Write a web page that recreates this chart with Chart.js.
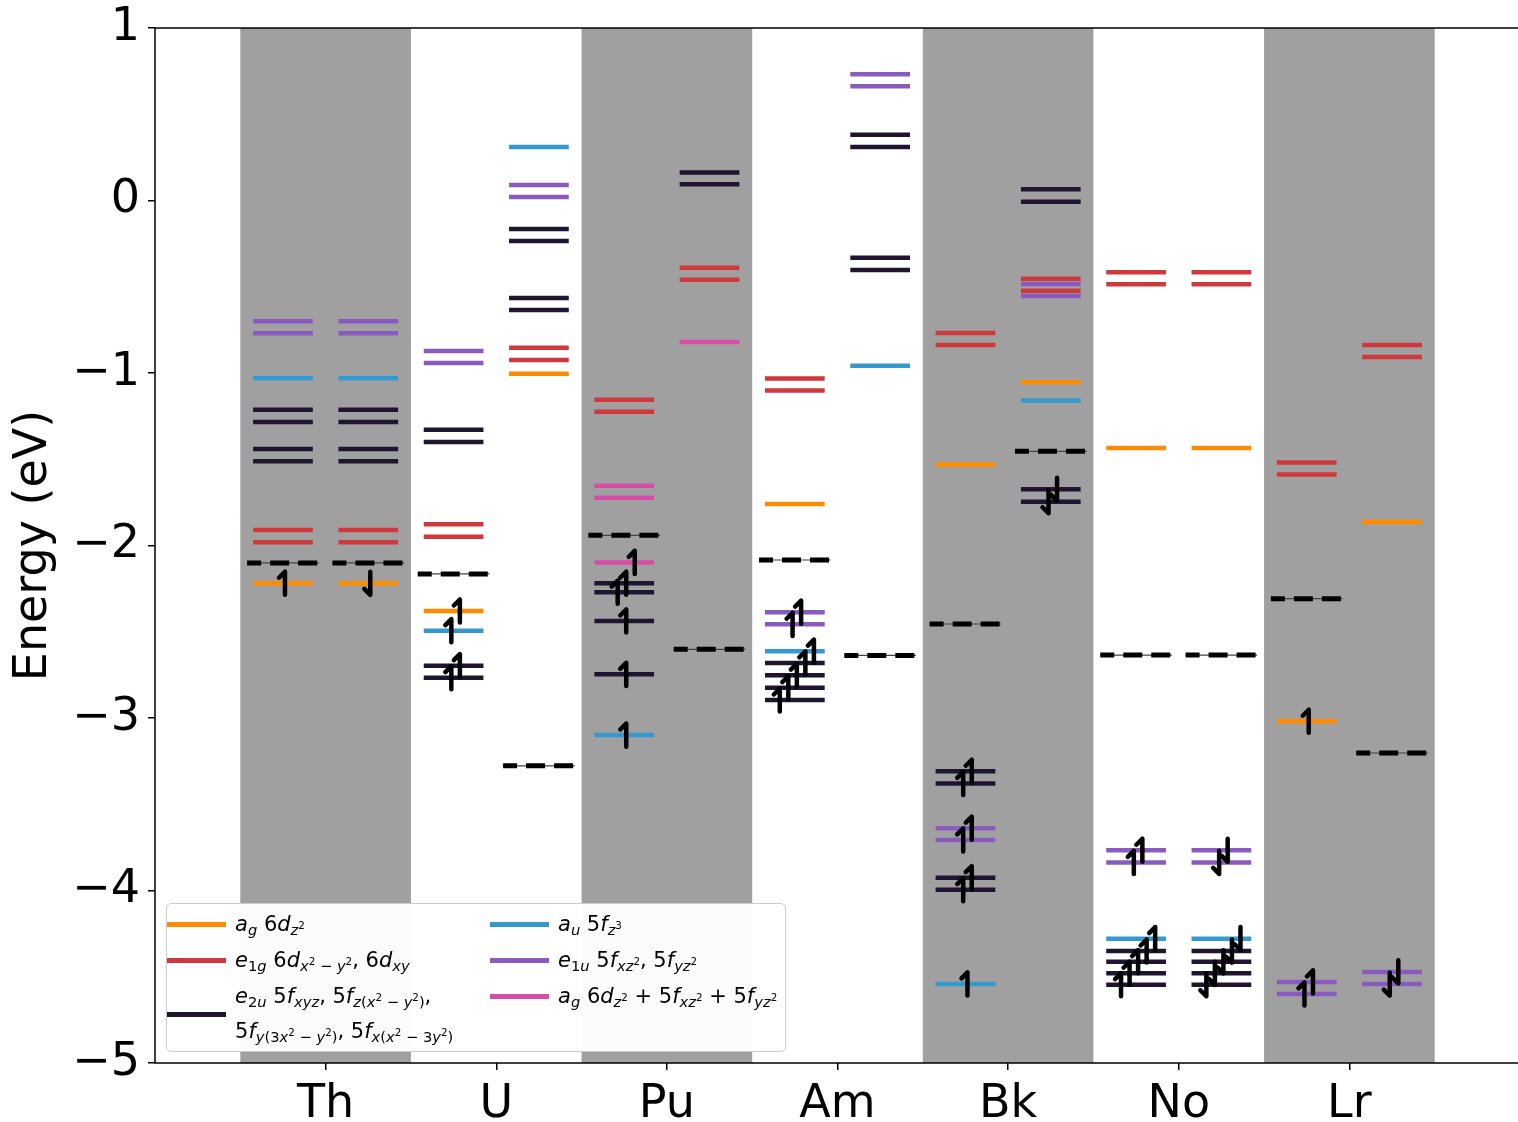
<!DOCTYPE html>
<html>
<head>
<meta charset="utf-8">
<title>Actinide orbital levels</title>
<script src="https://cdn.jsdelivr.net/npm/chart.js@4.4.1/dist/chart.umd.min.js"></script>
<style>
    html, body { margin: 0; padding: 0; background: #fff; overflow: hidden; }
    #wrap { position: relative; width: 1518px; height: 1122px; overflow: hidden; }
    #chartCanvas { display: block; }
    #legend {
        position: absolute; left: 166px; top: 903px; width: 620px; height: 149px;
        box-sizing: border-box; border: 1.5px solid #cccccc; border-radius: 5px;
        background: rgba(255, 255, 255, 0.97);
        font-family: 'DejaVu Sans', sans-serif; font-size: 21px; color: #000;
    }
    #legendGrid {
        position: absolute; left: 0px; top: 3px;
        display: grid; grid-template-columns: 323px auto;
        grid-template-rows: 36px 36px 70px; grid-auto-flow: column;
    }
    .item { display: flex; align-items: center; align-self: start; }
    .item.tall { align-self: stretch; }
    .handle { flex: none; width: 59px; height: 5px; margin-right: 9px; }
    .txt { line-height: 35px; white-space: nowrap; }
    .txt sub { font-size: 70%; vertical-align: -0.25em; line-height: 0; }
    .txt sup { font-size: 70%; vertical-align: 0.6em; line-height: 0; }
</style>
</head>
<body>
<div id="wrap">
    <canvas id="chartCanvas" width="1522" height="1122"></canvas>
    <div id="legend"><div id="legendGrid"></div></div>
</div>
<script>
const elements = ['Th', 'U', 'Pu', 'Am', 'Bk', 'No', 'Lr'];

// Each level: [element, spin column, energy (eV)]
const agLevels = [
    ['Th', 'up', -2.219], ['Th', 'down', -2.219], ['U', 'up', -2.380], ['U', 'down', -1.004],
    ['Am', 'up', -1.759], ['Bk', 'up', -1.531], ['Bk', 'down', -1.054],
    ['No', 'up', -1.435], ['No', 'down', -1.435], ['Lr', 'up', -3.019], ['Lr', 'down', -1.864],
];
const e1gLevels = [
    ['Th', 'up', -1.910], ['Th', 'up', -1.981], ['Th', 'down', -1.910], ['Th', 'down', -1.981],
    ['U', 'up', -1.877], ['U', 'up', -1.949], ['U', 'down', -0.853], ['U', 'down', -0.925],
    ['Pu', 'up', -1.155], ['Pu', 'up', -1.224], ['Pu', 'down', -0.390], ['Pu', 'down', -0.459],
    ['Am', 'up', -1.032], ['Am', 'up', -1.101],
    ['Bk', 'up', -0.768], ['Bk', 'up', -0.838], ['Bk', 'down', -0.453], ['Bk', 'down', -0.523],
    ['No', 'up', -0.416], ['No', 'up', -0.486], ['No', 'down', -0.416], ['No', 'down', -0.486],
    ['Lr', 'up', -1.519], ['Lr', 'up', -1.589], ['Lr', 'down', -0.838], ['Lr', 'down', -0.907],
];
const e2uLevels = [
    ['Th', 'up', -1.213], ['Th', 'up', -1.284], ['Th', 'up', -1.441], ['Th', 'up', -1.512],
    ['Th', 'down', -1.213], ['Th', 'down', -1.284], ['Th', 'down', -1.441], ['Th', 'down', -1.512],
    ['U', 'up', -1.329], ['U', 'up', -1.400], ['U', 'up', -2.697], ['U', 'up', -2.766],
    ['U', 'down', -0.165], ['U', 'down', -0.235], ['U', 'down', -0.565], ['U', 'down', -0.635],
    ['Pu', 'up', -2.219], ['Pu', 'up', -2.271], ['Pu', 'up', -2.438], ['Pu', 'up', -2.747],
    ['Pu', 'down', 0.163], ['Pu', 'down', 0.094],
    ['Am', 'up', -2.681], ['Am', 'up', -2.752], ['Am', 'up', -2.824], ['Am', 'up', -2.896],
    ['Am', 'down', 0.381], ['Am', 'down', 0.310], ['Am', 'down', -0.332], ['Am', 'down', -0.403],
    ['Bk', 'up', -3.309], ['Bk', 'up', -3.379], ['Bk', 'up', -3.926], ['Bk', 'up', -3.995],
    ['Bk', 'down', 0.065], ['Bk', 'down', -0.007], ['Bk', 'down', -1.674], ['Bk', 'down', -1.746],
    ['No', 'up', -4.351], ['No', 'up', -4.413], ['No', 'up', -4.480], ['No', 'up', -4.546],
    ['No', 'down', -4.351], ['No', 'down', -4.413], ['No', 'down', -4.480], ['No', 'down', -4.546],
];
const auLevels = [
    ['Th', 'up', -1.031], ['Th', 'down', -1.031], ['U', 'up', -2.494], ['U', 'down', 0.310],
    ['Pu', 'up', -3.099], ['Am', 'up', -2.613], ['Am', 'down', -0.958],
    ['Bk', 'up', -4.542], ['Bk', 'down', -1.160], ['No', 'up', -4.279], ['No', 'down', -4.279],
];
const e1uLevels = [
    ['Th', 'up', -0.700], ['Th', 'up', -0.770], ['Th', 'down', -0.700], ['Th', 'down', -0.770],
    ['U', 'up', -0.872], ['U', 'up', -0.942], ['U', 'down', 0.090], ['U', 'down', 0.020],
    ['Am', 'up', -2.387], ['Am', 'up', -2.457], ['Am', 'down', 0.732], ['Am', 'down', 0.662],
    ['Bk', 'up', -3.639], ['Bk', 'up', -3.707], ['Bk', 'down', -0.484], ['Bk', 'down', -0.554],
    ['No', 'up', -3.767], ['No', 'up', -3.837], ['No', 'down', -3.767], ['No', 'down', -3.837],
    ['Lr', 'up', -4.530], ['Lr', 'up', -4.600], ['Lr', 'down', -4.472], ['Lr', 'down', -4.542],
];
const agMixLevels = [
    ['Pu', 'up', -1.653], ['Pu', 'up', -1.723], ['Pu', 'up', -2.098], ['Pu', 'down', -0.820],
];
const fermiLevels = [
    ['Th', 'up', -2.101], ['Th', 'down', -2.101], ['U', 'up', -2.165], ['U', 'down', -3.277],
    ['Pu', 'up', -1.941], ['Pu', 'down', -2.602], ['Am', 'up', -2.084], ['Am', 'down', -2.637],
    ['Bk', 'up', -2.455], ['Bk', 'down', -1.454], ['No', 'up', -2.635], ['No', 'down', -2.635],
    ['Lr', 'up', -2.308], ['Lr', 'down', -3.203],
];
// Occupied levels (one electron each)
const electrons = [
    ['Th', 'up', -2.219], ['Th', 'down', -2.219],
    ['U', 'up', -2.380], ['U', 'up', -2.494], ['U', 'up', -2.697], ['U', 'up', -2.766],
    ['Pu', 'up', -2.098], ['Pu', 'up', -2.219], ['Pu', 'up', -2.271], ['Pu', 'up', -2.438],
    ['Pu', 'up', -2.747], ['Pu', 'up', -3.099],
    ['Am', 'up', -2.387], ['Am', 'up', -2.457], ['Am', 'up', -2.613], ['Am', 'up', -2.681],
    ['Am', 'up', -2.752], ['Am', 'up', -2.824], ['Am', 'up', -2.896],
    ['Bk', 'up', -3.309], ['Bk', 'up', -3.379], ['Bk', 'up', -3.639], ['Bk', 'up', -3.707],
    ['Bk', 'up', -3.926], ['Bk', 'up', -3.995], ['Bk', 'up', -4.542],
    ['Bk', 'down', -1.674], ['Bk', 'down', -1.746],
    ['No', 'up', -3.767], ['No', 'up', -3.837], ['No', 'up', -4.279], ['No', 'up', -4.351],
    ['No', 'up', -4.413], ['No', 'up', -4.480], ['No', 'up', -4.546],
    ['No', 'down', -3.767], ['No', 'down', -3.837], ['No', 'down', -4.279], ['No', 'down', -4.351],
    ['No', 'down', -4.413], ['No', 'down', -4.480], ['No', 'down', -4.546],
    ['Lr', 'up', -3.019], ['Lr', 'up', -4.530], ['Lr', 'up', -4.600],
    ['Lr', 'down', -4.472], ['Lr', 'down', -4.542],
];

const orbitalLevels = [agLevels, e1gLevels, e2uLevels, auLevels, e1uLevels, agMixLevels];
const orbitalColors = ['#ff8c00', '#cf393b', '#1e1530', '#3399cf', '#8a5bbf', '#d84ca8'];
const orbitalLabels = [
    '<i>a</i><sub><i>g</i></sub> 6<i>d</i><sub><i>z</i><sup>2</sup></sub>',
    '<i>e</i><sub>1<i>g</i></sub> 6<i>d</i><sub><i>x</i><sup>2</sup> − <i>y</i><sup>2</sup></sub>, 6<i>d</i><sub><i>xy</i></sub>',
    '<i>e</i><sub>2<i>u</i></sub> 5<i>f</i><sub><i>xyz</i></sub>, 5<i>f</i><sub><i>z</i>(<i>x</i><sup>2</sup> − <i>y</i><sup>2</sup>)</sub>,<br>' +
        '5<i>f</i><sub><i>y</i>(3<i>x</i><sup>2</sup> − <i>y</i><sup>2</sup>)</sub>, 5<i>f</i><sub><i>x</i>(<i>x</i><sup>2</sup> − 3<i>y</i><sup>2</sup>)</sub>',
    '<i>a</i><sub><i>u</i></sub> 5<i>f</i><sub><i>z</i><sup>3</sup></sub>',
    '<i>e</i><sub>1<i>u</i></sub> 5<i>f</i><sub><i>xz</i><sup>2</sup></sub>, 5<i>f</i><sub><i>yz</i><sup>2</sup></sub>',
    '<i>a</i><sub><i>g</i></sub> 6<i>d</i><sub><i>z</i><sup>2</sup></sub> + 5<i>f</i><sub><i>xz</i><sup>2</sup></sub> + 5<i>f</i><sub><i>yz</i><sup>2</sup></sub>',
];

const FONT = "'DejaVu Sans', sans-serif";
const LEVEL_HALF = 0.175;   // half width of a level bar (x units)
const FERMI_HALF = 0.21;
const ARROW_HALF = 0.067;   // half length of an electron arrow (eV)
const ARROW_STEP = 0.05;    // horizontal spacing of neighbouring arrows
const GROUP_GAP = 0.135;    // levels closer than this share a staggered group

function columnX(el, spin) {
    return elements.indexOf(el) + (spin === 'up' ? -0.25 : 0.25);
}

function barPoints(levels, half) {
    const pts = [];
    levels.forEach(function ([el, spin, e]) {
        const cx = columnX(el, spin);
        pts.push({ x: cx - half, y: e }, { x: cx + half, y: e }, { x: cx + half, y: null });
    });
    return pts;
}

// Grey bands behind every other element
const bandsPlugin = {
    id: 'bands',
    beforeDatasetsDraw(chart) {
        const { ctx, chartArea, scales: { x } } = chart;
        ctx.save();
        ctx.fillStyle = '#a0a0a0';
        elements.forEach(function (_, i) {
            if (i % 2 !== 0) return;
            const x0 = x.getPixelForValue(i - 0.5);
            const x1 = x.getPixelForValue(i + 0.5);
            ctx.fillRect(x0, chartArea.top, x1 - x0, chartArea.bottom - chartArea.top);
        });
        ctx.restore();
    },
};

// Half-headed spin arrows on occupied levels
const arrowsPlugin = {
    id: 'electronArrows',
    afterDatasetsDraw(chart) {
        const { ctx, scales: { x, y } } = chart;
        const cols = {};
        electrons.forEach(function ([el, spin, e]) {
            const key = el + '|' + spin;
            if (!cols[key]) cols[key] = { el: el, spin: spin, list: [] };
            cols[key].list.push(e);
        });
        ctx.save();
        ctx.strokeStyle = '#000';
        ctx.lineWidth = 4.5;
        ctx.lineCap = 'round';
        ctx.lineJoin = 'round';
        Object.values(cols).forEach(function (col) {
            const sorted = col.list.slice().sort((a, b) => b - a);
            const groups = [];
            sorted.forEach(function (e, i) {
                if (i === 0 || sorted[i - 1] - e > GROUP_GAP) groups.push([]);
                groups[groups.length - 1].push(e);
            });
            const cx = columnX(col.el, col.spin);
            groups.forEach(function (g) {
                g.forEach(function (e, i) {
                    const off = ((g.length - 1) / 2 - i) * ARROW_STEP;
                    const px = x.getPixelForValue(cx + off) + 2;
                    const yTop = y.getPixelForValue(e + ARROW_HALF);
                    const yBot = y.getPixelForValue(e - ARROW_HALF);
                    ctx.beginPath();
                    ctx.moveTo(px, yTop);
                    ctx.lineTo(px, yBot);
                    if (col.spin === 'up') {
                        ctx.moveTo(px, yTop);
                        ctx.lineTo(px - 6, yTop + 6);
                    } else {
                        ctx.moveTo(px, yBot);
                        ctx.lineTo(px - 6, yBot - 6);
                    }
                    ctx.stroke();
                });
            });
        });
        ctx.restore();
    },
};

// Full box frame
const framePlugin = {
    id: 'frame',
    afterDraw(chart) {
        const { ctx, chartArea: a } = chart;
        ctx.save();
        ctx.strokeStyle = '#000';
        ctx.lineWidth = 1.5;
        ctx.strokeRect(a.left, a.top, a.right - a.left, a.bottom - a.top);
        ctx.restore();
    },
};

const datasets = orbitalLevels.map(function (levels, i) {
    return {
        data: barPoints(levels, LEVEL_HALF),
        showLine: true,
        borderColor: orbitalColors[i],
        borderWidth: 4.5,
        borderCapStyle: 'butt',
        pointRadius: 0,
        spanGaps: false,
    };
});
datasets.push({
    data: barPoints(fermiLevels, FERMI_HALF),
    showLine: true,
    borderColor: '#000',
    borderWidth: 5,
    borderDash: [19, 9],
    borderDashOffset: 5,
    borderCapStyle: 'butt',
    pointRadius: 0,
    spanGaps: false,
});
datasets.push({
    data: barPoints(fermiLevels, FERMI_HALF),
    showLine: true,
    borderColor: '#444',
    borderWidth: 1.2,
    pointRadius: 0,
    spanGaps: false,
});

const tickFont = { family: FONT, size: 46 };

new Chart(document.getElementById('chartCanvas'), {
    type: 'scatter',
    data: { datasets: datasets },
    options: {
        responsive: false,
        animation: false,
        devicePixelRatio: 1,
        layout: { padding: { top: 28, right: 2, left: 0, bottom: 0 } },
        plugins: { legend: { display: false }, tooltip: { enabled: false } },
        scales: {
            x: {
                type: 'linear',
                min: -1,
                max: 7,
                afterBuildTicks: function (scale) {
                    scale.ticks = elements.map((_, i) => ({ value: i }));
                },
                afterFit: function (scale) {
                    scale.height = 59;
                    scale.paddingLeft = 0;
                    scale.paddingRight = 0;
                },
                ticks: {
                    callback: v => elements[v],
                    font: tickFont,
                    color: '#000',
                    padding: 7,
                    maxRotation: 0,
                    autoSkip: false,
                },
                grid: { drawOnChartArea: false, drawTicks: true, tickLength: 7, color: '#000', lineWidth: 1.5 },
                border: { display: false },
            },
            y: {
                min: -5,
                max: 1,
                afterFit: function (scale) {
                    scale.width = 155;
                    scale.paddingTop = 0;
                    scale.paddingBottom = 0;
                },
                ticks: {
                    stepSize: 1,
                    callback: v => (v < 0 ? '\u2212' : '') + Math.abs(v),
                    font: tickFont,
                    color: '#000',
                    padding: 8,
                },
                grid: { drawOnChartArea: false, drawTicks: true, tickLength: 7, color: '#000', lineWidth: 1.5 },
                border: { display: false },
                title: {
                    display: true,
                    text: 'Energy (eV)',
                    font: tickFont,
                    color: '#000',
                    padding: { top: 6, bottom: 0 },
                },
            },
        },
    },
    plugins: [bandsPlugin, arrowsPlugin, framePlugin],
});

// Legend (HTML so the sub/superscripts render as text)
const grid = document.getElementById('legendGrid');
orbitalLabels.forEach(function (label, i) {
    const item = document.createElement('div');
    item.className = 'item' + (label.indexOf('<br>') >= 0 ? ' tall' : '');
    item.innerHTML = '<span class="handle" style="background:' + orbitalColors[i] + '"></span>' +
        '<span class="txt">' + label + '</span>';
    grid.appendChild(item);
});
</script>
</body>
</html>
